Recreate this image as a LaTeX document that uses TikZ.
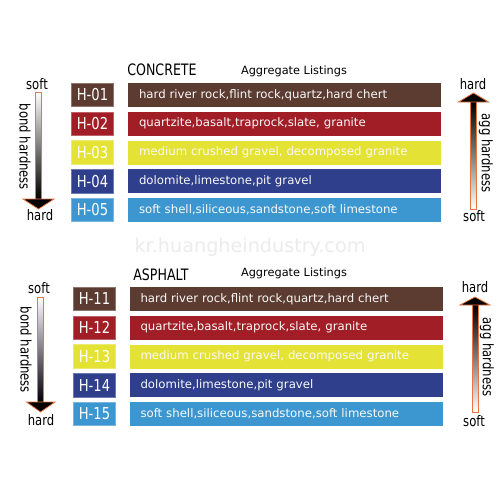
\documentclass[tikz,border=0pt]{standalone}
\usepackage{fontspec}
\setmainfont{DejaVu Sans}
\newfontfamily\condf[FakeStretch=0.8]{DejaVu Sans}
\definecolor{cbrown}{HTML}{5C3B30}
\definecolor{cred}{HTML}{A21E26}
\definecolor{cyellow}{HTML}{E4E234}
\definecolor{cblue}{HTML}{2F3F8B}
\definecolor{clblue}{HTML}{3C97D1}
\definecolor{corange}{HTML}{E8743F}
\tikzset{
 hb/.style={draw=#1!70!white, line width=0.6pt, fill=#1, minimum width=31.5pt, minimum height=17.5pt, inner sep=0pt, text=white, font=\condf\fontsize{12.3}{13}\selectfont},
 bar/.style={fill=#1, minimum height=18pt, text width=218.25pt, inner xsep=8.25pt, inner ysep=0pt, align=left, text=white!95!gray, font=\fontsize{8.8}{10}\selectfont, text height=6.4pt, text depth=1.7pt},
 lab/.style={font=\condf\fontsize{10.9}{12}\selectfont, inner sep=0pt},
 title/.style={font=\condf\fontsize{11.8}{12}\selectfont, inner sep=0pt},
 listing/.style={font=\fontsize{8.5}{10}\selectfont, inner sep=0pt},
 outl/.style={draw=corange, line width=0.6pt},
}
\begin{document}
\begin{tikzpicture}[x=0.75pt,y=-0.75pt]
\useasboundingbox (0,0) rectangle (500,500);
\fill[white] (0,0) rectangle (500,500);

% watermark
\node[text=gray!15, font=\fontsize{14.4}{16}\selectfont] (wm) at (250,247) {kr.huangheindustry.com};

% ---------------- CONCRETE ----------------
\node[title] (t1) at (162,70) {CONCRETE};
\node[listing] (l1) at (294,71) {Aggregate Listings};

\node[hb=cbrown]  (h01) at (92.5,95)     {H-01};
\node[hb=cred]    (h02) at (92.5,123.75) {H-02};
\node[hb=cyellow] (h03) at (92.5,152.5)  {H-03};
\node[hb=cblue]   (h04) at (92.5,181.25) {H-04};
\node[hb=clblue]  (h05) at (92.5,210)    {H-05};

\node[bar=cbrown]  (b01) at (284.5,95)     {hard river rock,flint rock,quartz,hard chert};
\node[bar=cred]    (b02) at (284.5,123.75) {quartzite,basalt,traprock,slate, granite};
\node[bar=cyellow] (b03) at (284.5,152.5)  {medium crushed gravel, decomposed granite};
\node[bar=cblue]   (b04) at (284.5,181.25) {dolomite,limestone,pit gravel};
\node[bar=clblue]  (b05) at (284.5,210)    {soft shell,siliceous,sandstone,soft limestone};

% left arrow (bond hardness)
\shade[top color=white, bottom color=black] (35.5,92) rectangle (41.5,199);
\draw[outl] (35.5,199) -- (35.5,92) -- (41.5,92) -- (41.5,199);
\filldraw[fill=black, outl] (23,199) -- (54,199) -- (38.5,209) -- cycle;
\node[lab] (s1) at (37,84) {soft};
\node[lab] (d1) at (40,215) {hard};
\node[lab, rotate=-90] (bh1) at (25,147) {bond hardness};

% right arrow (agg hardness)
\shade[top color=black, bottom color=white] (470.5,102) rectangle (476.5,209);
\draw[outl] (470.5,102) -- (470.5,209) -- (476.5,209) -- (476.5,102);
\filldraw[fill=black, outl] (458.5,102) -- (488.5,102) -- (473.5,93) -- cycle;
\node[lab] (h1) at (473,84) {hard};
\node[lab] (f1) at (474,216) {soft};
\node[lab, rotate=-90] (ah1) at (486,153) {agg hardness};

% ---------------- ASPHALT ----------------
\node[title] (t2) at (161,275) {ASPHALT};
\node[listing] (l2) at (294,273) {Aggregate Listings};

\node[hb=cbrown]  (h11) at (94.5,299)    {H-11};
\node[hb=cred]    (h12) at (94.5,327.75) {H-12};
\node[hb=cyellow] (h13) at (94.5,356.5)  {H-13};
\node[hb=cblue]   (h14) at (94.5,385.25) {H-14};
\node[hb=clblue]  (h15) at (94.5,414)    {H-15};

\node[bar=cbrown]  (b11) at (286,299)    {hard river rock,flint rock,quartz,hard chert};
\node[bar=cred]    (b12) at (286,327.75) {quartzite,basalt,traprock,slate, granite};
\node[bar=cyellow] (b13) at (286,356.5)  {medium crushed gravel, decomposed granite};
\node[bar=cblue]   (b14) at (286,385.25) {dolomite,limestone,pit gravel};
\node[bar=clblue]  (b15) at (286,414)    {soft shell,siliceous,sandstone,soft limestone};

% left arrow
\shade[top color=white, bottom color=black] (37,297) rectangle (43,402);
\draw[outl] (37,402) -- (37,297) -- (43,297) -- (43,402);
\filldraw[fill=black, outl] (26.5,402) -- (55,402) -- (40.5,412) -- cycle;
\node[lab] (s2) at (39,288) {soft};
\node[lab] (d2) at (41,420) {hard};
\node[lab, rotate=-90] (bh2) at (26,350) {bond hardness};

% right arrow
\shade[top color=black, bottom color=white] (472,305) rectangle (478,412);
\draw[outl] (472,305) -- (472,412) -- (478,412) -- (478,305);
\filldraw[fill=black, outl] (460,305) -- (490,305) -- (475,297) -- cycle;
\node[lab] (h2) at (475,287) {hard};
\node[lab] (f2) at (474,421) {soft};
\node[lab, rotate=-90] (ah2) at (487,357) {agg hardness};
\end{tikzpicture}
\end{document}
